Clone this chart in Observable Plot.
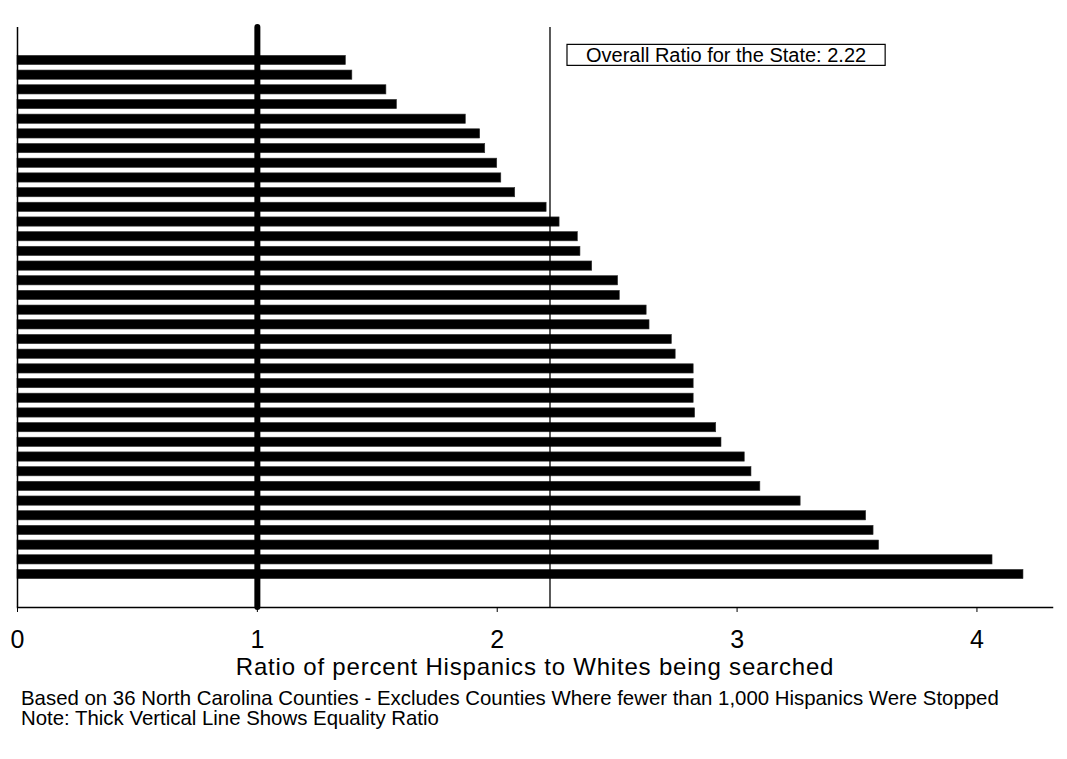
<!DOCTYPE html>
<html>
<head>
<meta charset="utf-8">
<script src="https://cdn.jsdelivr.net/npm/d3@7"></script>
<script src="https://cdn.jsdelivr.net/npm/@observablehq/plot@0.6"></script>
<style>
  html, body { margin: 0; padding: 0; background: #fff; }
  #chart svg { display: block; }
  #caption { font-family: "Liberation Sans", Arial, sans-serif; font-size: 20.4px; line-height: 20.3px; color: #000; padding-left: 21px; margin-top: 0; }
</style>
</head>
<body>
<div id="chart"></div>
<div id="caption">
  <div>Based on 36 North Carolina Counties - Excludes Counties Where fewer than 1,000 Hispanics Were Stopped</div>
  <div>Note: Thick Vertical Line Shows Equality Ratio</div>
</div>
<script>
const counties = ["C01","C02","C03","C04","C05","C06","C07","C08","C09","C10","C11","C12",
  "C13","C14","C15","C16","C17","C18","C19","C20","C21","C22","C23","C24",
  "C25","C26","C27","C28","C29","C30","C31","C32","C33","C34","C35","C36"];
const ratios = [1.369,1.396,1.538,1.582,1.869,1.929,1.950,2.000,2.017,2.075,
  2.206,2.260,2.336,2.347,2.396,2.504,2.511,2.623,2.635,2.728,
  2.744,2.819,2.819,2.819,2.825,2.913,2.935,3.032,3.060,3.097,
  3.265,3.538,3.569,3.592,4.065,4.194];
const xTicks = [0, 1, 2, 3, 4];
const overallRatio = 2.22;
const equalityRatio = 1;
const annotation = "Overall Ratio for the State: 2.22";
const xLabel = "Ratio of percent Hispanics to Whites being searched";

const data = counties.map((c, i) => ({county: c, ratio: ratios[i]}));

const plot = Plot.plot({
  width: 1067,
  height: 688,
  marginTop: 27,
  marginBottom: 81,
  marginLeft: 17,
  marginRight: 15,
  style: {fontFamily: "'Liberation Sans', Arial, sans-serif", fontSize: "25px", background: "#fff", color: "#000"},
  x: {domain: [0, 4.315], ticks: xTicks},
  y: {domain: counties, paddingInner: 0.37, paddingOuter: 1.93, round: false, axis: null},
  marks: [
    Plot.barX(data, {x: "ratio", y: "county", fill: "#000", stroke: "#333", strokeWidth: 0.6}),
    Plot.ruleX([0], {stroke: "#000", strokeWidth: 1.5}),
    Plot.ruleX([overallRatio], {stroke: "#000", strokeWidth: 1.3}),
    Plot.ruleX([equalityRatio], {stroke: "#000", strokeWidth: 6, strokeLinecap: "round"}),
    Plot.frame({anchor: "bottom", stroke: "#000", strokeWidth: 1.5}),
    Plot.axisX({ticks: xTicks, tickSize: 5, tickPadding: 17.5, tickFormat: d => String(d),
      label: null, stroke: "#000", fill: "#000"}),
    Plot.text([xLabel], {frameAnchor: "bottom", lineAnchor: "top", dy: 50, text: d => d,
      fontSize: 24, fill: "#000", style: "letter-spacing:0.8px"}),
    Plot.text([annotation], {x: () => overallRatio, y: () => counties[0], text: d => d,
      textAnchor: "start", dx: 36, dy: -5, fontSize: 20, fill: "#000"})
  ]
});
document.getElementById("chart").appendChild(plot);

const svg = d3.select(plot);
svg.selectAll("text").each(function() {
  if (this.textContent === xLabel) this.style.letterSpacing = "0.8px";
});
// draw box around the annotation text
svg.selectAll("text").each(function() {
  if (this.textContent === annotation) {
    const b = this.getBBox();
    const cy = b.y + b.height / 2;
    d3.select(this.parentNode).insert("rect", () => this)
      .attr("transform", this.getAttribute("transform"))
      .attr("x", b.x - 19).attr("y", cy - 10.5)
      .attr("width", b.width + 38).attr("height", 21)
      .attr("fill", "#fff").attr("stroke", "#000").attr("stroke-width", 1.2);
  }
});
</script>
</body>
</html>
